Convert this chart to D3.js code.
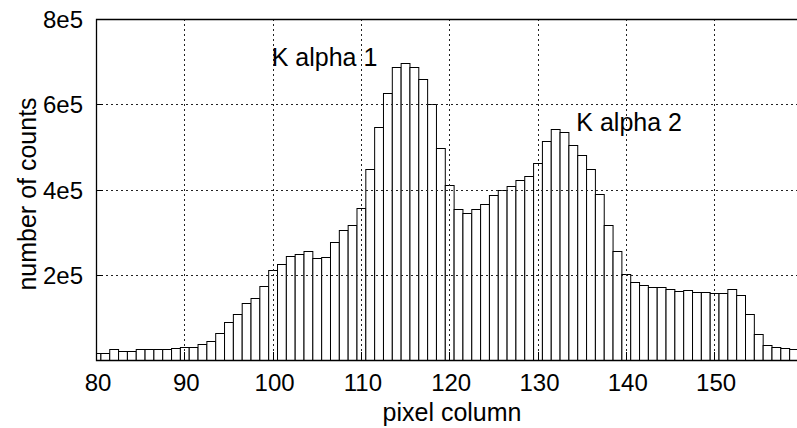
<!DOCTYPE html>
<html>
<head>
<meta charset="utf-8">
<script src="https://cdn.jsdelivr.net/npm/d3@7"></script>
<style>
  html, body { margin: 0; padding: 0; background: #fff; }
  svg { display: block; font-family: "Liberation Sans", Arial, Helvetica, sans-serif; }
</style>
</head>
<body>
<svg id="chart" width="797" height="428"></svg>
<script>
// Detector pixel columns and photon counts per column
const columns = d3.range(80, 160);
const counts = [
  17000, 17000, 25000, 20000, 21000, 25000, 25000, 26000, 26000, 27000,
  31000, 31000, 37000, 45000, 63000, 89000, 109000, 134000, 145000, 173000,
  210000, 226000, 243000, 249000, 256000, 240000, 241000, 276000, 304000, 317000,
  357000, 447000, 546000, 627000, 687000, 696000, 688000, 660000, 600000, 497000,
  410000, 355000, 344000, 354000, 367000, 387000, 400000, 409000, 422000, 432000,
  461000, 514000, 543000, 536000, 504000, 481000, 447000, 390000, 317000, 255000,
  202000, 182000, 177000, 171000, 172000, 167000, 163000, 164000, 160000, 159000,
  157000, 157000, 167000, 152000, 107000, 60000, 35000, 30000, 27000, 25000
];

// Axis ticks
const xTicks = [80, 90, 100, 110, 120, 130, 140, 150];
const yTicks = [200000, 400000, 600000, 800000];
const yTickLabels = ["2e5", "4e5", "6e5", "8e5"];

// Peak annotations (start position of each label, in data units)
const peakLabels = ["K alpha 1", "K alpha 2"];
const peakColumns = [99.9, 134.4];
const peakCounts = [690000, 538000];

const svg = d3.select("#chart");
const plotLeft = 96, plotRight = 802.4, plotTop = 19, plotBottom = 360;

const x = d3.scaleLinear().domain([80, 160]).range([plotLeft, plotRight]);
const y = d3.scaleLinear().domain([0, 800000]).range([plotBottom, plotTop]);

svg.append("defs").append("clipPath").attr("id", "plotClip")
  .append("rect").attr("x", plotLeft).attr("y", plotTop)
  .attr("width", plotRight - plotLeft).attr("height", plotBottom - plotTop);

const data = columns.map((c, i) => ({ col: c, n: counts[i] }));

// Histogram bars, one per pixel column, centred on the column number
svg.append("g").attr("clip-path", "url(#plotClip)")
  .selectAll("rect").data(data).join("rect")
  .attr("x", d => x(d.col - 0.5) + 0.5)
  .attr("y", d => Math.round(y(d.n)) + 0.5)
  .attr("width", d => x(d.col + 0.5) - x(d.col - 0.5))
  .attr("height", d => plotBottom - Math.round(y(d.n)))
  .attr("fill", "#fff")
  .attr("stroke", "#000")
  .attr("stroke-width", 1);

// Dotted grid drawn over the bars
const grid = svg.append("g").attr("stroke", "#222").attr("stroke-width", 1)
  .attr("stroke-dasharray", "2,3").attr("fill", "none");
grid.selectAll("line.v").data(xTicks.slice(1)).join("line")
  .attr("class", "v")
  .attr("x1", d => Math.round(x(d)) + 0.5).attr("x2", d => Math.round(x(d)) + 0.5)
  .attr("y1", plotTop).attr("y2", plotBottom);
grid.selectAll("line.h").data(yTicks.slice(0, -1)).join("line")
  .attr("class", "h")
  .attr("x1", plotLeft).attr("x2", plotRight)
  .attr("y1", d => Math.round(y(d)) + 0.5).attr("y2", d => Math.round(y(d)) + 0.5);

// Frame and inward tick marks
const frame = svg.append("g").attr("stroke", "#000").attr("fill", "none");
frame.append("path")
  .attr("d", `M${plotRight},${plotTop + 0.5}H${plotLeft + 0.5}V${plotBottom + 0.5}H${plotRight}`)
  .attr("stroke-width", 1.3);
frame.selectAll("line.yt").data(yTicks).join("line")
  .attr("x1", plotLeft).attr("x2", plotLeft + 7)
  .attr("y1", d => Math.round(y(d)) + 0.5).attr("y2", d => Math.round(y(d)) + 0.5);
frame.selectAll("line.xt").data(xTicks).join("line")
  .attr("x1", d => Math.round(x(d)) + 0.5).attr("x2", d => Math.round(x(d)) + 0.5)
  .attr("y1", plotBottom).attr("y2", plotBottom - 8);

// Tick labels
svg.append("g").selectAll("text").data(yTicks).join("text")
  .attr("x", 83).attr("y", d => y(d) + 9)
  .attr("text-anchor", "end").attr("font-size", 24).attr("fill", "#000")
  .text((d, i) => yTickLabels[i]);
svg.append("g").selectAll("text").data(xTicks).join("text")
  .attr("x", d => x(d) + 2).attr("y", 391)
  .attr("text-anchor", "middle").attr("font-size", 24).attr("fill", "#000")
  .text(d => d);

// Axis titles
svg.append("text").attr("x", 452).attr("y", 421)
  .attr("text-anchor", "middle").attr("font-size", 25).attr("fill", "#000")
  .text("pixel column");
svg.append("text")
  .attr("transform", "translate(36,194) rotate(-90)")
  .attr("text-anchor", "middle").attr("font-size", 25).attr("fill", "#000")
  .text("number of counts");

// Peak labels
svg.append("g").selectAll("text").data(peakLabels).join("text")
  .attr("x", (d, i) => x(peakColumns[i]))
  .attr("y", (d, i) => y(peakCounts[i]))
  .attr("text-anchor", "start").attr("font-size", 25).attr("fill", "#000")
  .text(d => d);
</script>
</body>
</html>
